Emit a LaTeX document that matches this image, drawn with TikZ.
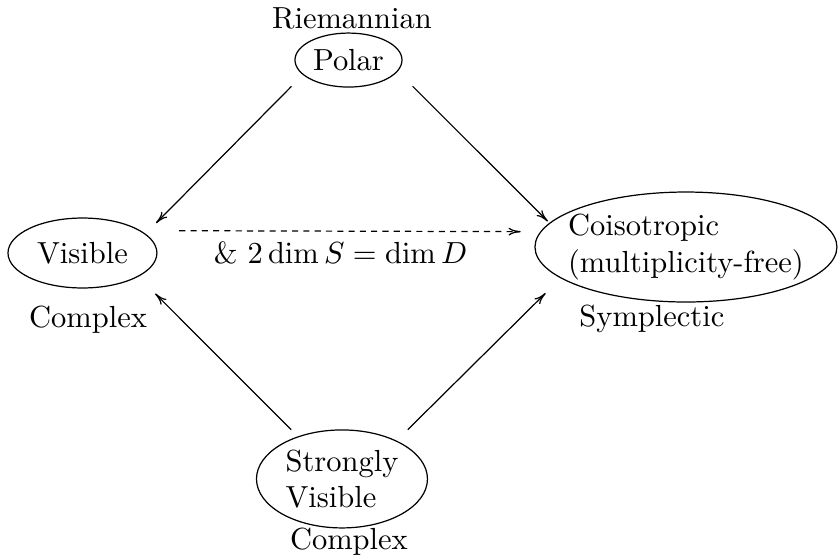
\documentclass[tikz,border=0pt]{standalone}
\usetikzlibrary{shapes.geometric,arrows.meta}
\begin{document}
\begin{tikzpicture}[
        oval/.style={draw,ellipse,inner sep=0pt,align=left},
        tag/.style={anchor=base},
        link/.style={-{To[length=4pt,width=2.6pt]}}
    ]
        \useasboundingbox (0,0) rectangle (9.655,6.44);
        %% Top
        \node[oval,minimum width=1.233cm,minimum height=0.622cm]
            (polar) at (4.015,5.748) {Polar};
        \node[tag] (riem) at (4.055,6.117) {Riemannian};
        %% Left
        \node[oval,minimum width=1.716cm,minimum height=0.806cm]
            (visible) at (0.950,3.525) {Visible};
        \node[tag] (cplxA) at (1.014,2.661) {Complex};
        %% Right
        \node[oval,inner xsep=-6pt,minimum width=3.479cm,minimum height=1.267cm]
            (coiso) at (7.903,3.594) {Coisotropic\\(multiplicity-free)};
        \node[tag] (sympl) at (7.511,2.673) {Symplectic};
        %% Bottom
        \node[oval,minimum width=1.970cm,minimum height=1.129cm]
            (strong) at (3.940,0.922) {Strongly\\Visible};
        \node[tag] (cplxB) at (4.020,0.104) {Complex};
        %% Arrows
        \draw[link,shorten <=5.3pt,shorten >=4.9pt] (polar.198) -- (visible.17);
        \draw[link,shorten <=6.9pt,shorten >=0.7pt] (polar.347) -- (coiso.170);
        \draw[link,shorten <=3.1pt,shorten >=7.8pt] (strong.136) -- (visible.337);
        \draw[link,shorten <=5.1pt,shorten >=6.9pt] (strong.35) -- (coiso.194);
        \draw[link,dash pattern=on 2pt off 1.7pt,shorten <=12.6pt,shorten >=6.4pt]
            (visible.21) -- (coiso.174)
            node[midway,below] (cond) {\& $2\dim S=\dim D$};
\end{tikzpicture}
\end{document}
